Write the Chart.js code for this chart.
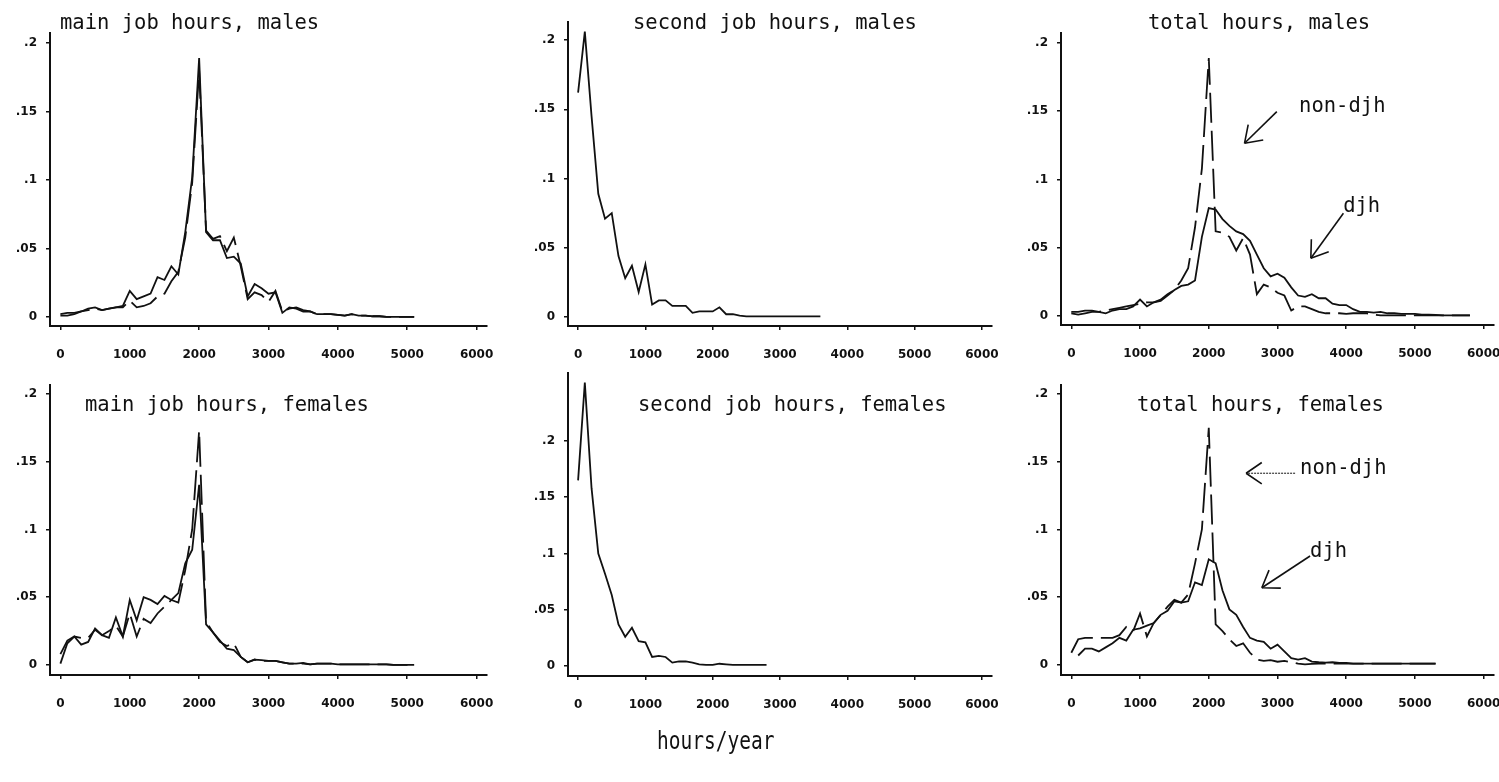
<!DOCTYPE html>
<html>
<head>
<meta charset="utf-8">
<script src="https://cdn.jsdelivr.net/npm/chart.js@4.4.0/dist/chart.umd.min.js"></script>
<style>
  body { margin: 0; background: #fff; width: 1499px; height: 782px; overflow: hidden; position: relative; }
  canvas { position: absolute; left: 0; top: 0; }
  .title { position: absolute; font: 20.5px "DejaVu Sans Mono", monospace; color: #111; white-space: pre; line-height: 20px; }
  #xcaption { position: absolute; left: 657px; top: 728px; font: 19.5px "DejaVu Sans Mono", monospace; color: #111;
              transform: scaleY(1.3); transform-origin: left top; line-height: 20px; }
</style>
</head>
<body>
<canvas id="p1" width="1499" height="782"></canvas>
<canvas id="p2" width="1499" height="782"></canvas>
<canvas id="p3" width="1499" height="782"></canvas>
<canvas id="p4" width="1499" height="782"></canvas>
<canvas id="p5" width="1499" height="782"></canvas>
<canvas id="p6" width="1499" height="782"></canvas>

<div class="title" style="left:60px; top:12px">main job hours, males</div>
<div class="title" style="left:633px; top:12px">second job hours, males</div>
<div class="title" style="left:1148px; top:12px">total hours, males</div>
<div class="title" style="left:85px; top:394px">main job hours, females</div>
<div class="title" style="left:638px; top:394px">second job hours, females</div>
<div class="title" style="left:1137px; top:394px">total hours, females</div>
<div id="xcaption">hours/year</div>

<script>
// hour bins (100 hours wide)
const hours = [0, 100, 200, 300, 400, 500, 600, 700, 800, 900,
    1000, 1100, 1200, 1300, 1400, 1500, 1600, 1700, 1800, 1900,
    2000, 2100, 2200, 2300, 2400, 2500, 2600, 2700, 2800, 2900,
    3000, 3100, 3200, 3300, 3400, 3500, 3600, 3700, 3800, 3900,
    4000, 4100, 4200, 4300, 4400, 4500, 4600, 4700, 4800, 4900,
    5000, 5100, 5200, 5300, 5400, 5500, 5600, 5700, 5800];

const xTicks = [0, 1000, 2000, 3000, 4000, 5000, 6000];
const yTicks = [0, 0.05, 0.1, 0.15, 0.2];

// main job, males
const mainMaleDjh = [0.002, 0.003, 0.003, 0.004, 0.006, 0.007, 0.005, 0.006, 0.007, 0.008,
    0.019, 0.013, 0.015, 0.017, 0.029, 0.027, 0.037, 0.031, 0.062, 0.102,
    0.189, 0.062, 0.056, 0.056, 0.043, 0.044, 0.039, 0.015, 0.024, 0.021,
    0.017, 0.018, 0.003, 0.007, 0.006, 0.004, 0.004, 0.002, 0.002, 0.002,
    0.0015, 0.001, 0.002, 0.001, 0.001, 0.0005, 0.0005, 0, 0, 0, 0, 0];
const mainMaleNon = [0.001, 0.001, 0.002, 0.004, 0.005, 0.006, 0.005, 0.006, 0.007, 0.007,
    0.012, 0.007, 0.008, 0.010, 0.015, 0.017, 0.026, 0.033, 0.058, 0.098,
    0.180, 0.063, 0.057, 0.059, 0.048, 0.058, 0.037, 0.013, 0.018, 0.016,
    0.011, 0.019, 0.004, 0.006, 0.007, 0.005, 0.004, 0.002, 0.002, 0.002,
    0.0015, 0.001, 0.002, 0.001, 0.001, 0.0005, 0.0005, 0, 0, 0, 0, 0];

// second job, males
const secondMale = [0.162, 0.206, 0.145, 0.089, 0.071, 0.075, 0.044, 0.028, 0.037, 0.018,
    0.038, 0.009, 0.012, 0.012, 0.008, 0.008, 0.008, 0.003, 0.004, 0.004,
    0.004, 0.007, 0.002, 0.002, 0.001, 0.0005, 0.0005, 0.0005, 0.0005, 0.0005,
    0.0005, 0.0005, 0.0005, 0.0005, 0.0005, 0.0005, 0.0005];

// total hours, males
const totalMaleDjh = [0.002, 0.001, 0.002, 0.003, 0.003, 0.002, 0.004, 0.005, 0.005, 0.007,
    0.012, 0.007, 0.010, 0.011, 0.015, 0.019, 0.022, 0.023, 0.026, 0.058,
    0.079, 0.078, 0.071, 0.066, 0.062, 0.060, 0.055, 0.045, 0.035, 0.029,
    0.031, 0.028, 0.021, 0.015, 0.014, 0.016, 0.013, 0.013, 0.009, 0.008,
    0.008, 0.005, 0.003, 0.003, 0.0025, 0.003, 0.002, 0.002, 0.0015, 0.0015,
    0.0015, 0.001, 0.001, 0.0008, 0.0005, 0.0005, 0.0005, 0.0005, 0.0005];
const totalMaleNon = [0.003, 0.003, 0.004, 0.004, 0.003, 0.004, 0.005, 0.006, 0.007, 0.008,
    0.009, 0.010, 0.010, 0.012, 0.016, 0.019, 0.026, 0.035, 0.065, 0.108,
    0.189, 0.062, 0.061, 0.058, 0.048, 0.057, 0.045, 0.016, 0.023, 0.021,
    0.017, 0.015, 0.004, 0.007, 0.007, 0.005, 0.003, 0.002, 0.002, 0.002,
    0.0015, 0.002, 0.002, 0.002, 0.001, 0.0005, 0.0005, 0.0005, 0.0005, 0.0005,
    0.0005, 0.0005, 0.0005, 0.0005, 0.0005, 0.0005, 0.0005, 0.0005, 0.0005];

// main job, females
const mainFemDjh = [0.001, 0.016, 0.021, 0.015, 0.017, 0.027, 0.022, 0.020, 0.035, 0.021,
    0.048, 0.033, 0.050, 0.048, 0.045, 0.051, 0.048, 0.053, 0.075, 0.085,
    0.133, 0.030, 0.024, 0.018, 0.012, 0.011, 0.006, 0.002, 0.004, 0.0035,
    0.003, 0.003, 0.002, 0.001, 0.001, 0.0015, 0.0005, 0.001, 0.001, 0.001,
    0.0005, 0.0005, 0.0005, 0.0005, 0.0005, 0.0005, 0.0005, 0.0005, 0, 0, 0, 0];
const mainFemNon = [0.008, 0.018, 0.021, 0.020, 0.020, 0.026, 0.022, 0.025, 0.029, 0.021,
    0.038, 0.021, 0.034, 0.031, 0.038, 0.043, 0.048, 0.046, 0.070, 0.100,
    0.173, 0.032, 0.024, 0.017, 0.014, 0.016, 0.006, 0.002, 0.004, 0.003,
    0.003, 0.003, 0.002, 0.001, 0.001, 0.001, 0.0005, 0.001, 0.001, 0.001,
    0.0005, 0.0005, 0.0005, 0.0005, 0.0005, 0.0005, 0.0005, 0.0005, 0, 0, 0, 0];

// second job, females
const secondFem = [0.165, 0.252, 0.158, 0.100, 0.082, 0.063, 0.037, 0.026, 0.034, 0.022,
    0.021, 0.008, 0.009, 0.008, 0.003, 0.004, 0.004, 0.003, 0.0015, 0.001,
    0.001, 0.002, 0.0015, 0.001, 0.001, 0.001, 0.001, 0.001, 0.001];

// total hours, females
const totalFemDjh = [null, 0.007, 0.012, 0.012, 0.010, 0.013, 0.016, 0.020, 0.018, 0.026,
    0.027, 0.029, 0.031, 0.037, 0.040, 0.047, 0.046, 0.047, 0.061, 0.059,
    0.078, 0.075, 0.055, 0.041, 0.037, 0.028, 0.020, 0.018, 0.017, 0.012,
    0.015, 0.010, 0.005, 0.004, 0.005, 0.0025, 0.002, 0.0017, 0.002, 0.0015,
    0.0015, 0.001, 0.001, 0.001, 0.001, 0.001, 0.001, 0.001, 0.001, 0.001,
    0.001, 0.001, 0.001, 0.001];
const totalFemNon = [0.009, 0.019, 0.020, 0.020, 0.020, 0.020, 0.020, 0.022, 0.028, 0.025,
    0.038, 0.021, 0.031, 0.037, 0.043, 0.048, 0.046, 0.052, 0.075, 0.100,
    0.175, 0.030, 0.025, 0.019, 0.014, 0.016, 0.009, 0.004, 0.003, 0.0036,
    0.0024, 0.003, 0.002, 0.001, 0.0005, 0.0008, 0.001, 0.001, 0.001, 0.001,
    0.001, 0.001, 0.001, 0.001, 0.001, 0.001, 0.001, 0.001, 0.001, 0.001,
    0.001, 0.001, 0.001, 0.001];

const INK = '#111';
const Y_AXIS_W = 40;
const X_AXIS_H = 40;
const tickFont = { family: 'DejaVu Sans', size: 12, weight: 'bold' };

const toPoints = (values) => values.map((v, i) => ({ x: hours[i], y: v }));

const solid = (values) => ({
    data: toPoints(values), borderColor: INK, borderWidth: 1.8,
    pointRadius: 0, tension: 0, fill: false
});
const dashed = (values) => ({
    data: toPoints(values), borderColor: INK, borderWidth: 1.8, borderDash: [30, 8],
    pointRadius: 0, tension: 0, fill: false
});

// arrows and their labels, placed in data units
const notesPlugin = {
    id: 'notes',
    afterDatasetsDraw(chart, args, opts) {
        const { ctx } = chart;
        const sx = chart.scales.x, sy = chart.scales.y;
        ctx.save();
        ctx.strokeStyle = INK;
        ctx.fillStyle = INK;
        (opts.arrows || []).forEach(a => {
            const x0 = sx.getPixelForValue(a.from[0]), y0 = sy.getPixelForValue(a.from[1]);
            const x1 = sx.getPixelForValue(a.to[0]), y1 = sy.getPixelForValue(a.to[1]);
            ctx.lineWidth = a.thin ? 1 : 1.6;
            ctx.setLineDash(a.thin ? [2, 1] : []);
            ctx.beginPath();
            ctx.moveTo(x0, y0);
            ctx.lineTo(x1, y1);
            ctx.stroke();
            ctx.setLineDash([]);
            ctx.lineWidth = 1.6;
            const ang = Math.atan2(y0 - y1, x0 - x1);
            ctx.beginPath();
            [-0.6, 0.6].forEach(d => {
                ctx.moveTo(x1, y1);
                ctx.lineTo(x1 + 19 * Math.cos(ang + d), y1 + 19 * Math.sin(ang + d));
            });
            ctx.stroke();
        });
        ctx.font = '20.5px "DejaVu Sans Mono"';
        ctx.textBaseline = 'alphabetic';
        ctx.textAlign = 'left';
        (opts.labels || []).forEach(l => {
            ctx.fillText(l.text, sx.getPixelForValue(l.x), sy.getPixelForValue(l.y));
        });
        ctx.restore();
    }
};

function makePanel(id, box, yRange, datasets, notes) {
    new Chart(document.getElementById(id), {
        type: 'line',
        data: { datasets: datasets },
        options: {
            responsive: false,
            animation: false,
            layout: {
                padding: {
                    left: box.left - Y_AXIS_W,
                    top: box.top,
                    right: 1499 - box.right,
                    bottom: 782 - box.bottom - X_AXIS_H
                }
            },
            plugins: {
                legend: { display: false },
                tooltip: { enabled: false },
                notes: notes || {}
            },
            scales: {
                x: {
                    type: 'linear', min: -150, max: 6150,
                    afterBuildTicks: s => { s.ticks = xTicks.map(v => ({ value: v })); },
                    afterFit: s => { s.height = X_AXIS_H; s.paddingLeft = 0; s.paddingRight = 0; },
                    ticks: { font: tickFont, color: INK, padding: 18, maxRotation: 0, callback: v => String(v) },
                    grid: { display: true, drawOnChartArea: false, drawTicks: true, tickLength: 4, color: INK, lineWidth: 1.5 },
                    border: { display: true, color: INK, width: 2 }
                },
                y: {
                    type: 'linear', min: yRange[0], max: yRange[1],
                    afterBuildTicks: s => { s.ticks = yTicks.map(v => ({ value: v })); },
                    afterFit: s => { s.width = Y_AXIS_W; s.paddingTop = 0; s.paddingBottom = 0; },
                    ticks: { font: tickFont, color: INK, padding: 9,
                        callback: v => v === 0 ? '0' : String(v).replace(/^0\./, '.') },
                    grid: { display: true, drawOnChartArea: false, drawTicks: true, tickLength: 4, color: INK, lineWidth: 1.5 },
                    border: { display: true, color: INK, width: 2 }
                }
            }
        },
        plugins: [notesPlugin]
    });
}

makePanel('p1', { left: 50, top: 33, right: 487, bottom: 326 }, [-0.0066, 0.2073],
    [solid(mainMaleDjh), dashed(mainMaleNon)]);
makePanel('p2', { left: 568, top: 22, right: 992, bottom: 326 }, [-0.0065, 0.213],
    [solid(secondMale)]);
makePanel('p3', { left: 1061, top: 33, right: 1494, bottom: 325 }, [-0.0066, 0.2073],
    [solid(totalMaleDjh), dashed(totalMaleNon)],
    {
        arrows: [{ from: [2990, 0.1497], to: [2520, 0.1265] },
                 { from: [3959, 0.0752], to: [3485, 0.0423] }],
        labels: [{ text: 'non-djh', x: 3314, y: 0.1494 },
                 { text: 'djh', x: 3955, y: 0.0762 }]
    });
makePanel('p4', { left: 50, top: 385, right: 487, bottom: 675 }, [-0.0074, 0.2066],
    [solid(mainFemDjh), dashed(mainFemNon)]);
makePanel('p5', { left: 568, top: 373, right: 992, bottom: 676 }, [-0.0089, 0.2604],
    [solid(secondFem)]);
makePanel('p6', { left: 1061, top: 385, right: 1494, bottom: 675 }, [-0.0074, 0.2066],
    [solid(totalFemDjh), dashed(totalFemNon)],
    {
        arrows: [{ from: [3256, 0.1415], to: [2543, 0.1415], thin: true },
                 { from: [3474, 0.0804], to: [2772, 0.0570] }],
        labels: [{ text: 'non-djh', x: 3329, y: 0.141 },
                 { text: 'djh', x: 3474, y: 0.0797 }]
    });
</script>
</body>
</html>
